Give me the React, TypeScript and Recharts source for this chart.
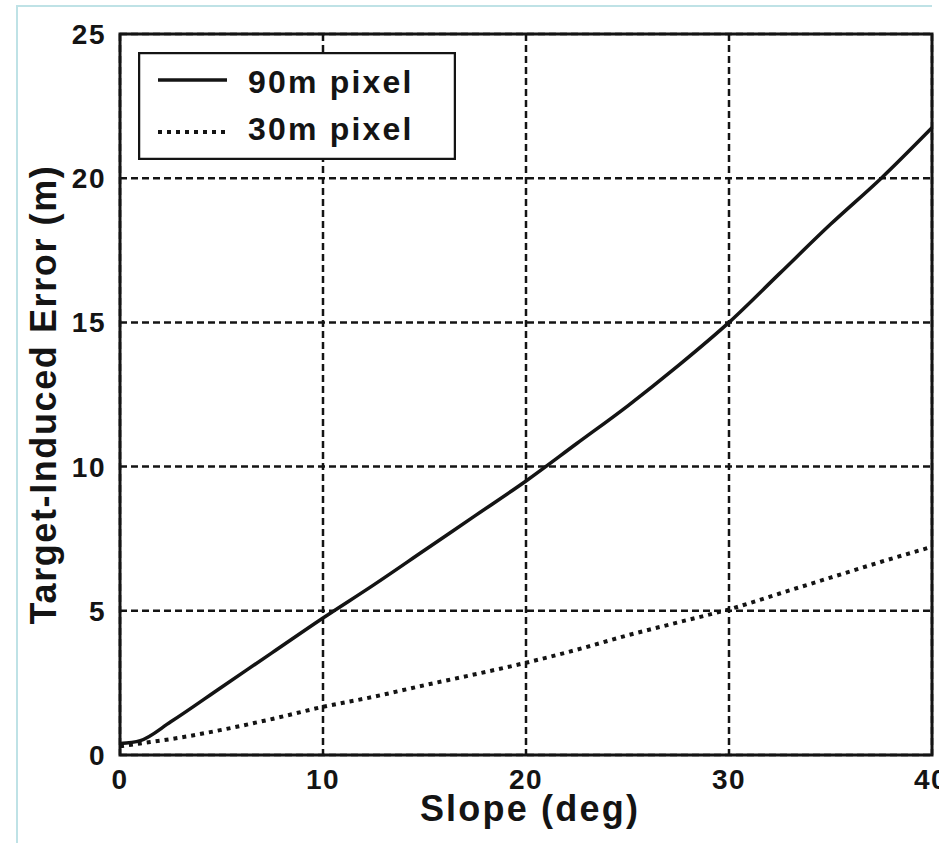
import React from 'react'
import { LineChart, Line, XAxis, YAxis, CartesianGrid, Legend, ReferenceArea } from 'recharts'

// slope angle in degrees
const slopeDeg = [0, 1, 2.5, 5, 7.5, 10, 12.5, 15, 17.5, 20, 22.5, 25, 27.5, 30, 32.5, 35, 37.5, 40]
// target-induced error (m)
const err90m = [0.4, 0.5, 1.15, 2.35, 3.55, 4.75, 5.9, 7.1, 8.3, 9.5, 10.8, 12.1, 13.5, 15.0, 16.7, 18.4, 20.0, 21.75]
const err30m = [0.3, 0.4, 0.55, 0.87, 1.25, 1.67, 2.02, 2.42, 2.8, 3.2, 3.65, 4.15, 4.6, 5.05, 5.6, 6.15, 6.7, 7.22]

const seriesNames = ['90m pixel', '30m pixel']
const xTicks = [0, 10, 20, 30, 40]
const yTicks = [0, 5, 10, 15, 20, 25]

const data = slopeDeg.map((s, i) => ({ slope: s, px90: err90m[i], px30: err30m[i] }))

const FONT = '"Liberation Sans", Arial, Helvetica, sans-serif'
const INK = '#141414'

const XTick = ({ x, y, payload }: any) => (
  <text x={x} y={y + 34} textAnchor="middle" fontFamily={FONT} fontWeight="bold" fontSize={28} letterSpacing={1.5} fill={INK}>
    {payload.value}
  </text>
)

const YTick = ({ x, y, payload }: any) => (
  <text x={x} y={y + 10} textAnchor="end" fontFamily={FONT} fontWeight="bold" fontSize={28} letterSpacing={1.5} fill={INK}>
    {payload.value}
  </text>
)

const YLabel = (props: any) => {
  const vb = props.viewBox || {}
  const cy = vb.y + vb.height / 2
  return (
    <text transform={`translate(56, ${cy}) rotate(-90)`} textAnchor="middle" fontFamily={FONT} fontWeight="bold" fontSize={36} letterSpacing={1.6} fill={INK}>
      Target-Induced Error (m)
    </text>
  )
}

const XLabel = (props: any) => {
  const vb = props.viewBox || {}
  const cx = vb.x + vb.width / 2
  return (
    <text x={cx + 4} y={821} textAnchor="middle" fontFamily={FONT} fontWeight="bold" fontSize={36} letterSpacing={2.2} fill={INK}>
      Slope (deg)
    </text>
  )
}

const LegendBox = ({ payload }: any) => {
  const items = [...(payload || [])].sort((a: any, b: any) => seriesNames.indexOf(a.value) - seriesNames.indexOf(b.value))
  return (
    <svg width={318} height={108} style={{ display: 'block' }}>
      <rect x={1} y={1} width={316} height={106} fill="#fff" stroke={INK} strokeWidth={2.5} />
      {items.map((entry: any, i: number) => {
        const ly = i === 0 ? 28 : 80
        const ty = i === 0 ? 41 : 88
        return (
          <g key={entry.value}>
            <line
              x1={20}
              x2={89}
              y1={ly}
              y2={ly}
              stroke={entry.color}
              strokeWidth={i === 0 ? 3.5 : 4}
              strokeDasharray={entry.payload?.strokeDasharray}
            />
            <text x={110} y={ty} fontFamily={FONT} fontWeight="bold" fontSize={32} letterSpacing={2.2} fill={INK}>
              {entry.value}
            </text>
          </g>
        )
      })}
    </svg>
  )
}

export default function App() {
  return (
    <div style={{ position: 'absolute', left: 0, top: 0, width: 939, height: 843, background: '#fff', overflow: 'hidden' }}>
      <div
        style={{
          position: 'absolute',
          left: 16,
          top: 5,
          width: 914,
          height: 850,
          borderTop: '2px solid #bfe2e6',
          borderLeft: '2px solid #bfe2e6',
        }}
      />
      <div style={{ position: 'absolute', left: 0, top: 0 }}>
        <LineChart width={939} height={843} data={data} margin={{ top: 34, right: 7, bottom: 0, left: 0 }}>
          <CartesianGrid stroke={INK} strokeWidth={2.5} strokeDasharray="7 4" />
          <XAxis
            dataKey="slope"
            type="number"
            domain={[0, 40]}
            ticks={xTicks}
            height={88}
            tickLine={false}
            tickSize={0}
            tickMargin={0}
            axisLine={false}
            tick={<XTick />}
            label={(p: any) => <XLabel {...p} />}
          />
          <YAxis
            type="number"
            domain={[0, 25]}
            ticks={yTicks}
            width={120}
            tickLine={false}
            tickSize={0}
            tickMargin={14}
            axisLine={false}
            tick={<YTick />}
            label={(p: any) => <YLabel {...p} />}
          />
          <ReferenceArea x1={0} x2={40} y1={0} y2={25} fill="none" stroke={INK} strokeWidth={3} />
          <Line
            name="90m pixel"
            dataKey="px90"
            type="monotone"
            stroke={INK}
            strokeWidth={3.5}
            dot={false}
            isAnimationActive={false}
          />
          <Line
            name="30m pixel"
            dataKey="px30"
            type="monotone"
            stroke={INK}
            strokeWidth={4}
            strokeDasharray="4 5"
            dot={false}
            isAnimationActive={false}
          />
          <Legend
            layout="horizontal"
            verticalAlign="middle"
            align="center"
            wrapperStyle={{ left: 138, top: 52, width: 318, height: 108 }}
            content={<LegendBox />}
          />
        </LineChart>
      </div>
    </div>
  )
}
